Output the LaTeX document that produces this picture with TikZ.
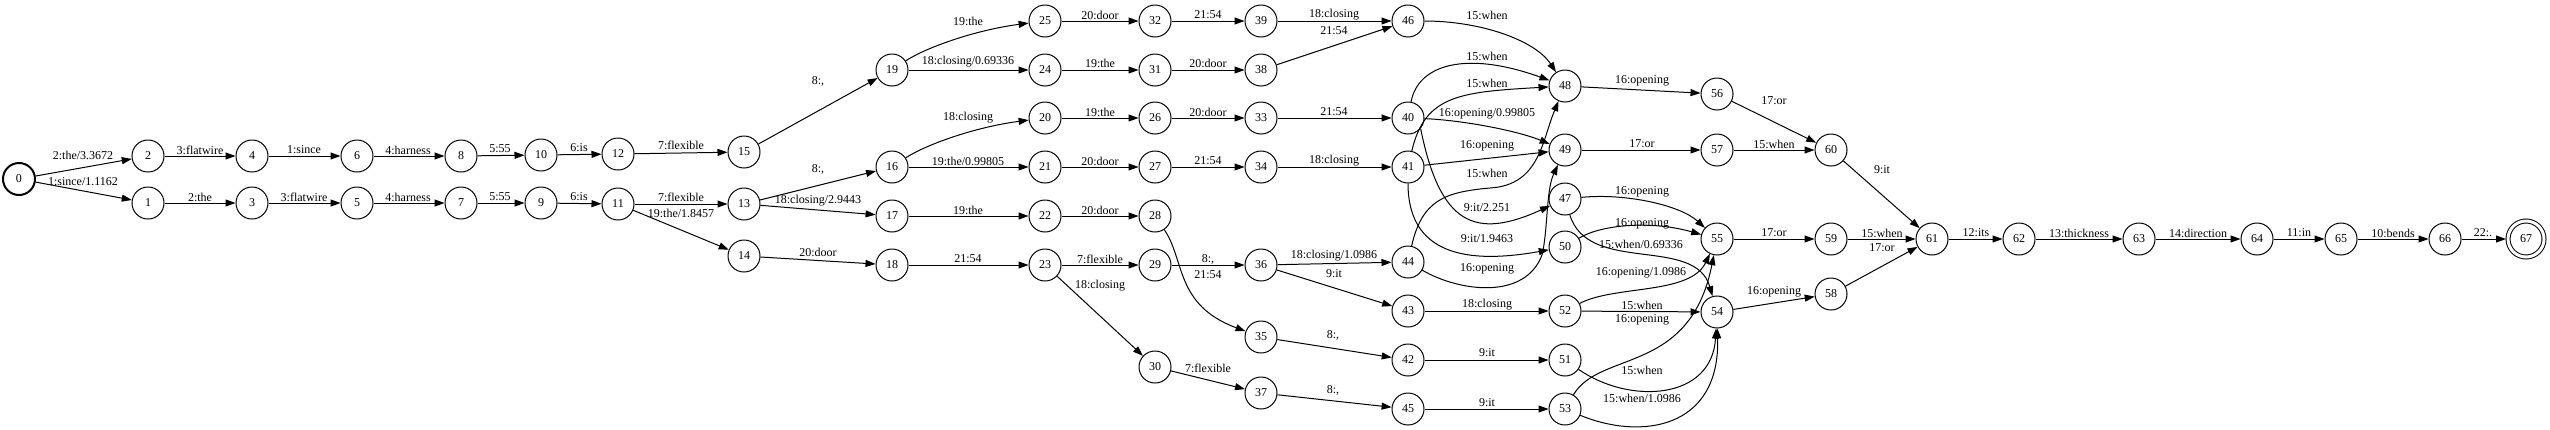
\documentclass[tikz,border=0pt]{standalone}
\usepackage{fontspec}
\setmainfont{Liberation Serif}
\usetikzlibrary{arrows.meta}
\tikzset{
 st/.style={circle,draw,line width=1pt,minimum size=32pt,inner sep=0pt,font=\fontsize{12}{14}\selectfont},
 start/.style={st,line width=2pt},
 final/.style={st,double,double distance=3pt,minimum size=36pt,outer sep=2pt},
 tr/.style={-{Triangle[length=10pt,width=7pt]},line width=1pt},
 lbl/.style={font=\fontsize{12}{14}\selectfont,inner sep=0pt}
}
\newcommand{\nd}[3]{
\node[st] (s#1) at (#2,#3) {#1};
}
\newcommand{\ed}[5]{
\draw[tr] (s#1) -- (s#2) node[lbl] at (#3,#4) {#5};
}

\begin{document}
\begin{tikzpicture}[x=1pt,y=-1pt]
\useasboundingbox (0,0) rectangle (2550,429);

\node[start] (s0) at (19,179) {0};
\nd{1}{148}{203}
\nd{2}{148}{156}
\nd{3}{252}{203}
\nd{4}{252}{156}
\nd{5}{357}{203}
\nd{6}{357}{156}
\nd{7}{461}{203}
\nd{8}{461}{156}
\nd{9}{541}{203}
\nd{10}{541}{155}
\nd{11}{618}{204}
\nd{12}{618}{154}
\nd{13}{744}{204}
\nd{14}{744}{256}
\nd{15}{744}{152}
\nd{16}{892}{167}
\nd{17}{892}{216}
\nd{18}{892}{265}
\nd{19}{892}{70}
\nd{20}{1045}{118}
\nd{21}{1045}{167}
\nd{22}{1045}{216}
\nd{23}{1045}{265}
\nd{24}{1045}{70}
\nd{25}{1045}{21}
\nd{26}{1155}{118}
\nd{27}{1155}{167}
\nd{28}{1155}{216}
\nd{29}{1155}{265}
\nd{30}{1155}{367}
\nd{31}{1155}{70}
\nd{32}{1155}{21}
\nd{33}{1261}{118}
\nd{34}{1261}{167}
\nd{35}{1261}{337}
\nd{36}{1261}{265}
\nd{37}{1261}{393}
\nd{38}{1261}{70}
\nd{39}{1261}{21}
\nd{40}{1408}{118}
\nd{41}{1408}{167}
\nd{42}{1408}{360}
\nd{43}{1408}{311}
\nd{44}{1408}{262}
\nd{45}{1408}{409}
\nd{46}{1408}{21}
\nd{47}{1565}{199}
\nd{48}{1565}{86}
\nd{49}{1565}{150}
\nd{50}{1565}{247}
\nd{51}{1565}{360}
\nd{52}{1565}{311}
\nd{53}{1565}{409}
\nd{54}{1717}{312}
\nd{55}{1717}{239}
\nd{56}{1717}{94}
\nd{57}{1717}{150}
\nd{58}{1831}{294}
\nd{59}{1831}{239}
\nd{60}{1831}{150}
\nd{61}{1932}{239}
\nd{62}{2019}{239}
\nd{63}{2139}{239}
\nd{64}{2257}{239}
\nd{65}{2341}{239}
\nd{66}{2445}{239}
\node[final] (s67) at (2526,239) {67};

\ed{0}{2}{83}{155}{2:the/3.3672}
\ed{0}{1}{83}{182}{1:since/1.1162}
\ed{2}{4}{200}{150}{3:flatwire}
\ed{4}{6}{304}{150}{1:since}
\ed{6}{8}{408}{150}{4:harness}
\ed{1}{3}{200}{197}{2:the}
\ed{3}{5}{304}{197}{3:flatwire}
\ed{5}{7}{408}{197}{4:harness}
\ed{8}{10}{500}{149}{5:55}
\ed{7}{9}{500}{197}{5:55}
\ed{10}{12}{579}{148}{6:is}
\ed{9}{11}{579}{197}{6:is}
\ed{12}{15}{681}{145}{7:flexible}
\ed{11}{13}{681}{197}{7:flexible}
\ed{11}{14}{681}{213}{19:the/1.8457}
\ed{15}{19}{818}{81}{8:,}
\ed{13}{16}{818}{169}{8:,}
\ed{13}{17}{818}{201}{18:closing/2.9443}
\ed{14}{18}{818}{252}{20:door}

\draw[tr] (s19) .. controls (925,48) and (975,30) .. (s25) node[lbl] at (968,21) {19:the};
\ed{19}{24}{968}{62}{18:closing/0.69336}
\draw[tr] (s16) .. controls (925,145) and (975,127) .. (s20) node[lbl] at (968,118) {18:closing};
\ed{16}{21}{968}{161}{19:the/0.99805}
\ed{17}{22}{968}{210}{19:the}
\ed{18}{23}{968}{259}{21:54}

\ed{25}{32}{1100}{15}{20:door}
\ed{24}{31}{1100}{63}{19:the}
\ed{20}{26}{1100}{112}{19:the}
\ed{21}{27}{1100}{161}{20:door}
\ed{22}{28}{1100}{210}{20:door}
\ed{23}{29}{1100}{259}{7:flexible}
\ed{23}{30}{1100}{286}{18:closing}

\ed{32}{39}{1208}{15}{21:54}
\ed{31}{38}{1208}{63}{20:door}
\ed{26}{33}{1208}{112}{20:door}
\ed{27}{34}{1208}{161}{21:54}
\ed{29}{36}{1208}{259}{8:,}
\draw[tr] (s28) .. controls (1185,260) and (1175,305) .. (s35) node[lbl] at (1208,275) {21:54};
\ed{30}{37}{1208}{368}{7:flexible}

\ed{39}{46}{1334}{15}{18:closing}
\ed{38}{46}{1334}{31}{21:54}
\ed{33}{40}{1334}{112}{21:54}
\ed{34}{41}{1334}{161}{18:closing}
\ed{36}{44}{1334}{256}{18:closing/1.0986}
\ed{36}{43}{1334}{274}{9:it}
\ed{35}{42}{1333}{335}{8:,}
\ed{37}{45}{1333}{390}{8:,}

% the tangle between 40..46 and 47..50
\draw[tr] (s46) .. controls (1480,21) and (1535,40) .. (s48) node[lbl] at (1487,15) {15:when};
\draw[tr] (s40) .. controls (1418,65) and (1465,50) .. (s48) node[lbl] at (1487,56) {15:when};
\draw[tr] (s41) .. controls (1425,95) and (1460,92) .. (s48) node[lbl] at (1487,83) {15:when};
\draw[tr] (s40) .. controls (1460,120) and (1515,130) .. (s49) node[lbl] at (1487,114) {16:opening/0.99805};
\ed{41}{49}{1487}{146}{16:opening}
\draw[tr] (s44) .. controls (1422,200) and (1445,192) .. (1490,188) .. controls (1540,185) and (1542,140) .. (s48) node[lbl] at (1487,173) {15:when};
\draw[tr] (s40.-40) .. controls (1440,225) and (1475,240) .. (s47) node[lbl] at (1487,208) {9:it/2.251};
\draw[tr] (s41) .. controls (1408,262) and (1480,262) .. (s50) node[lbl] at (1487,239) {9:it/1.9463};
\draw[tr] (s44) .. controls (1460,292) and (1525,300) .. (1542,255) .. controls (1548,230) and (1546,190) .. (s49) node[lbl] at (1487,269) {16:opening};
\ed{43}{52}{1487}{305}{18:closing}
\ed{42}{51}{1487}{353}{9:it}
\ed{45}{53}{1487}{403}{9:it}

\ed{48}{56}{1642}{81}{16:opening}
\ed{49}{57}{1642}{144}{17:or}
\draw[tr] (s47) .. controls (1625,193) and (1680,205) .. (s55) node[lbl] at (1642,192) {16:opening};
\draw[tr] (s50) .. controls (1600,225) and (1650,220) .. (s55) node[lbl] at (1642,224) {16:opening};
\draw[tr] (s47) .. controls (1588,275) and (1695,235) .. (s54) node[lbl] at (1641,244) {15:when/0.69336};
\draw[tr] (s52) .. controls (1615,285) and (1690,295) .. (s55) node[lbl] at (1641,273) {16:opening/1.0986};
\ed{52}{54}{1642}{305}{15:when}
\draw[tr] (s53) .. controls (1600,350) and (1690,375) .. (s55) node[lbl] at (1642,320) {16:opening};
\draw[tr] (s51) .. controls (1630,405) and (1712,400) .. (s54) node[lbl] at (1642,370) {15:when};
\draw[tr] (s53) .. controls (1640,440) and (1720,430) .. (s54) node[lbl] at (1642,398) {15:when/1.0986};

\ed{56}{60}{1774}{101}{17:or}
\ed{57}{60}{1774}{144}{15:when}
\ed{55}{59}{1774}{233}{17:or}
\ed{54}{58}{1774}{292}{16:opening}
\ed{60}{61}{1882}{170}{9:it}
\ed{59}{61}{1882}{233}{15:when}
\ed{58}{61}{1882}{248}{17:or}
\ed{61}{62}{1976}{233}{12:its}
\ed{62}{63}{2079}{233}{13:thickness}
\ed{63}{64}{2198}{233}{14:direction}
\ed{64}{65}{2299}{233}{11:in}
\ed{65}{66}{2393}{233}{10:bends}
\ed{66}{67}{2483}{233}{22:.}

\end{tikzpicture}
\end{document}
